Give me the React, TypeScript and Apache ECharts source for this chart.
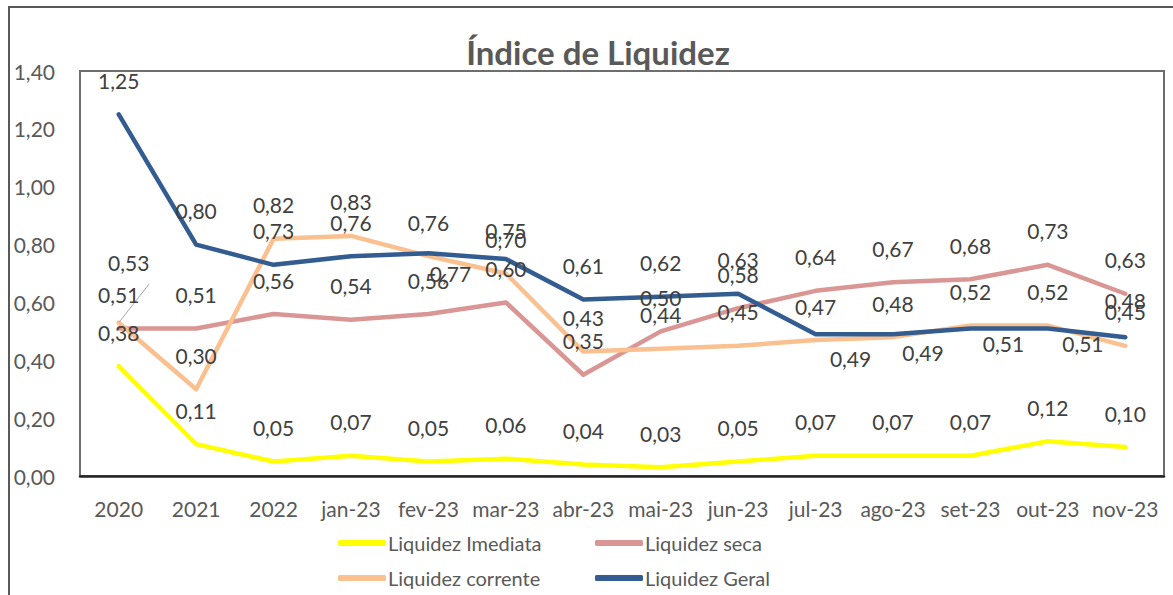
import React, { useEffect, useRef } from "react";
import * as echarts from "echarts";

const categories = ["2020", "2021", "2022", "jan-23", "fev-23", "mar-23", "abr-23", "mai-23", "jun-23", "jul-23", "ago-23", "set-23", "out-23", "nov-23"];
const imediata = [0.38, 0.11, 0.05, 0.07, 0.05, 0.06, 0.04, 0.03, 0.05, 0.07, 0.07, 0.07, 0.12, 0.10];
const seca = [0.51, 0.51, 0.56, 0.54, 0.56, 0.60, 0.35, 0.50, 0.58, 0.64, 0.67, 0.68, 0.73, 0.63];
const corrente = [0.53, 0.30, 0.82, 0.83, 0.76, 0.70, 0.43, 0.44, 0.45, 0.47, 0.48, 0.52, 0.52, 0.45];
const geral = [1.25, 0.80, 0.73, 0.76, 0.77, 0.75, 0.61, 0.62, 0.63, 0.49, 0.49, 0.51, 0.51, 0.48];
const yTicks = [0, 0.2, 0.4, 0.6, 0.8, 1.0, 1.2, 1.4];

// label offset overrides (index -> [dx, dy]), default [0, -34]
const imediataOffsets: Record<number, number[]> = {};
const secaOffsets: Record<number, number[]> = {};
const correnteOffsets: Record<number, number[]> = { 0: [10, -60] };
const geralOffsets: Record<number, number[]> = {
  4: [22, 20],
  5: [0, -29],
  9: [35, 24],
  10: [30, 18],
  11: [33, 15],
  12: [35, 15],
  13: [0, -37],
};
// labels that carry a leader line (series name -> indices)
const leaderLines: Record<string, number[]> = { "Liquidez corrente": [0] };

const fmt = (v: number) => v.toFixed(2).replace(".", ",");
const FONT = "Lato, 'Open Sans', sans-serif";

function buildData(name: string, values: number[], offsets: Record<number, number[]>) {
  const leaders = leaderLines[name] || [];
  return values.map((v, i) => {
    const item: any = {
      value: v,
      label: { offset: offsets[i] || [0, -34] },
    };
    if (leaders.indexOf(i) >= 0) {
      item.labelLine = { show: true, lineStyle: { color: "#a6a6a6", width: 1 } };
    }
    return item;
  });
}

function makeSeries(name: string, values: number[], offsets: Record<number, number[]>, color: string) {
  return {
    name,
    type: "line",
    data: buildData(name, values, offsets),
    symbol: "circle",
    symbolSize: 1,
    showSymbol: true,
    lineStyle: { color, width: 4.5, cap: "round", join: "round" },
    itemStyle: { color },
    label: {
      show: true,
      position: "inside",
      formatter: (p: any) => fmt(p.value),
      fontFamily: FONT,
      fontSize: 21,
      color: "#404040",
    },
    emphasis: { disabled: true },
  };
}

export default function App() {
  const ref = useRef<HTMLDivElement>(null);
  useEffect(() => {
    if (!ref.current) return;
    const chart = echarts.init(ref.current, null, { renderer: "svg" });
    const legendBase = {
      icon: "roundRect",
      itemWidth: 48,
      itemHeight: 6,
      itemGap: 0,
      textStyle: { fontFamily: FONT, fontSize: 20, color: "#595959", padding: [0, 0, 0, -3] },
    };
    chart.setOption({
      animation: false,
      backgroundColor: "#ffffff",
      title: {
        text: "Índice de Liquidez",
        left: 593,
        textAlign: "center",
        top: 30,
        textStyle: { fontFamily: FONT, fontSize: 33, fontWeight: "bold", color: "#595959" },
      },
      graphic: [
        {
          type: "rect",
          shape: { x: 9, y: 7, width: 1300, height: 700 },
          style: { fill: "none", stroke: "#595959", lineWidth: 2 },
          silent: true,
        },
      ],
      legend: [
        { ...legendBase, data: ["Liquidez Imediata"], left: 333, top: 528 },
        { ...legendBase, data: ["Liquidez seca"], left: 590, top: 528 },
        { ...legendBase, data: ["Liquidez corrente"], left: 333, top: 563 },
        { ...legendBase, data: ["Liquidez Geral"], left: 590, top: 563 },
      ],
      grid: {
        left: 80,
        top: 71,
        right: 9,
        bottom: 119,
        show: true,
        borderColor: "#6e6e6e",
        borderWidth: 2,
        containLabel: false,
      },
      xAxis: {
        type: "category",
        data: categories,
        boundaryGap: true,
        axisTick: { show: false },
        axisLine: { show: true, lineStyle: { color: "#262626", width: 2.5 } },
        axisLabel: { fontFamily: FONT, fontSize: 21, color: "#595959", margin: 22, interval: 0 },
        splitLine: { show: false },
      },
      yAxis: {
        type: "value",
        min: yTicks[0],
        max: yTicks[yTicks.length - 1],
        interval: 0.2,
        axisLine: { show: false },
        axisTick: { show: false },
        splitLine: { show: false },
        axisLabel: { fontFamily: FONT, fontSize: 21, color: "#595959", margin: 25, formatter: (v: number) => fmt(v) },
      },
      series: [
        makeSeries("Liquidez Imediata", imediata, imediataOffsets, "#FFFF00"),
        makeSeries("Liquidez seca", seca, secaOffsets, "#D99694"),
        makeSeries("Liquidez corrente", corrente, correnteOffsets, "#FAC090"),
        makeSeries("Liquidez Geral", geral, geralOffsets, "#335C90"),
      ],
    });
    return () => chart.dispose();
  }, []);
  return (
    <div
      ref={ref}
      style={{ position: "absolute", left: 0, top: 0, width: 1173, height: 595 }}
    />
  );
}
